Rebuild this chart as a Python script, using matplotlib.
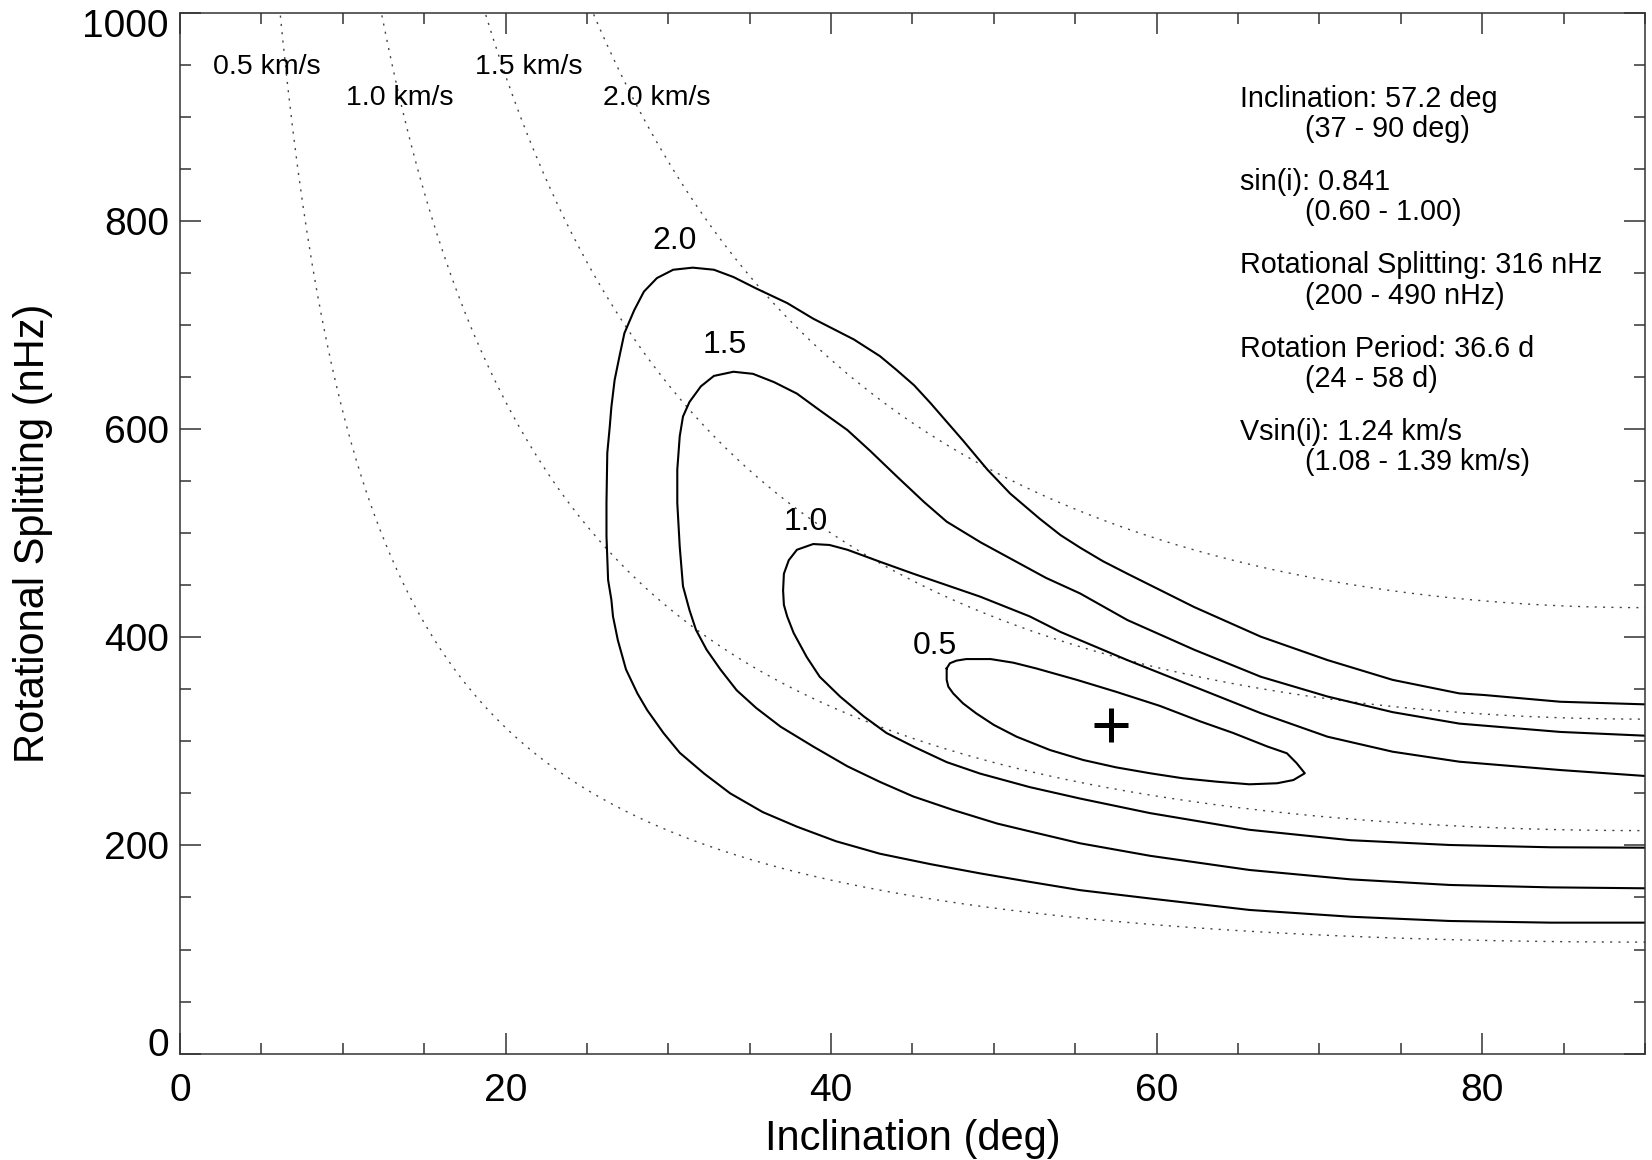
import matplotlib
matplotlib.use('Agg')
import matplotlib.pyplot as plt
import matplotlib.transforms as mtransforms
from matplotlib import font_manager
import numpy as np

# ====================================================================================
# DATOS
# Curvas de vsin(i) constante: velocidades (km/s) y desdoblamiento a i = 90 deg por km/s
vsini_levels = [0.5, 1.0, 1.5, 2.0]
split_per_kms = 214.2   # nHz

# Contornos de confianza (inclinacion en deg, desdoblamiento en nHz)
contour_levels = ['2.0', '1.5', '1.0', '0.5']

c20_inc = [90, 84.8, 80.1, 78.6, 74.5, 70.5, 66.4, 62.3, 58.2, 56.7, 55.3,
           54.1, 52.8, 51.0, 49.6, 48.1, 47.1, 46.1, 45.1, 44.0, 43.0,
           41.4, 38.9, 37.3, 35.4, 34.0, 32.8, 31.5, 30.3, 29.3, 28.5,
           27.9, 27.3, 27.0, 26.7, 26.5, 26.4, 26.25, 26.2, 26.2, 26.3,
           26.5, 26.6, 26.9, 27.4, 28.1, 28.7, 29.7, 30.7, 32.2, 33.8,
           35.8, 37.9, 40.3, 43.0, 46.1, 49.2, 52.2, 55.3, 59.6, 65.7,
           71.9, 78.0, 84.2, 90]
c20_split = [335.5, 338, 344.5, 346, 359, 378, 400.5, 429, 461, 473, 486,
             498, 514, 538, 561, 589, 607, 625, 642, 657, 670,
             686, 706, 721, 735, 746, 753, 755, 753, 745, 732,
             714, 692, 670, 647, 621, 602, 577, 529, 497, 455,
             436, 420, 397, 369, 346, 330, 308, 289, 269, 250,
             232, 218, 204, 192, 182, 173, 165, 157, 149, 138,
             131.5, 127.4, 125.8, 125.8]

c15_inc = [90, 84.8, 78.6, 74.5, 70.5, 66.4, 62.3, 58.2, 55.3, 53.2,
           51.2, 49.2, 47.1, 45.7, 44.0, 42.4, 41.0, 39.3, 37.9, 36.5,
           35.2, 34.0, 32.8, 32.0, 31.3, 30.9, 30.7, 30.55, 30.55, 30.7,
           30.9, 31.3, 31.7, 32.35, 33.2, 34.2, 35.4, 36.9, 38.9, 41.0,
           43.0, 45.05, 47.5, 50.2, 52.6, 55.3, 59.6, 65.7, 71.9, 78.0,
           84.2, 90]
c15_split = [305.4, 309, 317, 328, 343, 362, 388, 416.5, 442, 457,
             474, 491, 511, 530, 555, 579, 599, 618, 634, 645,
             653, 655, 651, 641, 626, 612, 593, 561, 529, 487,
             449, 426, 407, 388, 369, 349, 332, 314, 295, 276,
             261, 247, 234, 221, 212, 202, 190, 176.4, 167.4, 162,
             159.7, 158.8]

c10_inc = [90, 84.8, 78.6, 74.5, 70.5, 66.4, 62.3, 58.2, 54.1, 52.2,
           49.15, 47.1, 45.05, 43.0, 41.0, 39.9, 38.9, 37.9, 37.4, 37.1,
           37.05, 37.1, 37.3, 37.7, 38.5, 39.3, 40.55, 42.0, 43.4, 45.05,
           47.1, 49.15, 52.2, 55.3, 59.6, 65.7, 71.9, 78.0, 84.2, 90]
c10_split = [266.7, 272.4, 280.4, 290, 304.4, 327, 352.5, 378, 405, 420,
             439, 450, 461, 472.5, 484, 488.6, 489.5, 484, 474, 461,
             445, 431, 420, 404, 381, 362, 343, 324, 308, 295,
             280, 269, 256, 245, 231, 215, 205, 200.4, 198.2, 197.8]

c05_inc = [47.1, 47.3, 47.7, 48.3, 49.8, 51.2, 52.6, 55.1, 57.5, 60.2,
           62.7, 64.7, 66.8, 68.0, 68.6, 69.1, 68.4, 67.4, 65.7, 63.7,
           61.6, 59.6, 57.5, 55.5, 53.45, 51.4, 50.0, 48.9, 48.1, 47.5,
           47.2, 47.1, 47.1]
c05_split = [370, 375, 377.5, 379, 379, 375.5, 370, 359, 347.6, 334,
             319, 308, 295, 288.5, 279, 269.3, 262.8, 259.7, 258.7, 261.2,
             264.5, 269.3, 275, 282, 291.6, 304.4, 315.7, 327, 336.5, 346,
             352.5, 359, 370]

# Mejor ajuste
best_inc = 57.2
best_split = 316

# Resumen de parametros (valor, intervalo)
info_lines = [("Inclination: 57.2 deg", "(37 - 90 deg)"),
              ("sin(i): 0.841", "(0.60 - 1.00)"),
              ("Rotational Splitting: 316 nHz", "(200 - 490 nHz)"),
              ("Rotation Period: 36.6 d", "(24 - 58 d)"),
              ("Vsin(i): 1.24 km/s", "(1.08 - 1.39 km/s)")]

# ====================================================================================
# FUENTES
names = {f.name for f in font_manager.fontManager.ttflist}
if 'Liberation Sans Narrow' in names:
    tick_font, tick_size = 'Liberation Sans Narrow', 32
else:
    tick_font, tick_size = 'Liberation Sans', 28
plt.rcParams['font.family'] = ['Liberation Sans', 'DejaVu Sans']

# ====================================================================================
# FIGURA
fig = plt.figure(figsize=(16.52, 11.6), dpi=100)
ax = fig.add_axes([0.10896, 0.09172, 0.88680, 0.89741])
ax.set_xlim(0, 90)
ax.set_ylim(0, 1000)

# Curvas de vsin(i) constante
inc = np.linspace(0.5, 90, 600)
for v in vsini_levels:
    split = v * split_per_kms / np.sin(np.radians(inc))
    ax.plot(inc, split, color='#444444', lw=1.0, linestyle=(0, (1.5, 4.5)))

vel_label_pos = [(2.0, 948), (10.2, 918), (18.1, 948), (26.0, 918)]
for v, (x, y) in zip(vsini_levels, vel_label_pos):
    ax.text(x, y, '%.1f km/s' % v, fontsize=20.5, ha='left', va='center')

# Contornos
for xs, ys in [(c20_inc, c20_split), (c15_inc, c15_split),
               (c10_inc, c10_split), (c05_inc, c05_split)]:
    ax.plot(xs, ys, color='black', lw=1.5, solid_joinstyle='round')

label_pos = [(29.0, 781), (32.1, 681), (37.1, 511), (45.0, 392)]
for lab, (x, y) in zip(contour_levels, label_pos):
    ax.text(x, y, lab, fontsize=23, ha='left', va='center')

# Mejor ajuste
ax.plot(best_inc, best_split, marker='+', color='black', markersize=24, mew=3.6)

# Texto con los parametros
for k, (l1, l2) in enumerate(info_lines):
    base = 909.5 - 80 * k
    ax.text(65.1, base, l1, fontsize=20.7, ha='left', va='baseline')
    ax.text(69.1, base - 29, l2, fontsize=20.7, ha='left', va='baseline')

# ====================================================================================
# EJES
ax.set_xticks([0, 20, 40, 60, 80])
ax.set_xticks(np.arange(0, 91, 5), minor=True)
ax.set_yticks([0, 200, 400, 600, 800, 1000])
ax.set_yticks(np.arange(0, 1001, 50), minor=True)
ax.tick_params(which='both', direction='in', top=True, right=True, color='#333333')
ax.tick_params(which='major', length=15, width=1.1)
ax.tick_params(which='minor', length=8, width=1.1)
ax.tick_params(axis='x', which='major', pad=14)
ax.tick_params(axis='y', which='major', pad=8)
for lab in ax.get_xticklabels() + ax.get_yticklabels():
    lab.set_fontfamily(tick_font)
    lab.set_fontsize(tick_size)
for sp in ax.spines.values():
    sp.set_linewidth(1.1)
    sp.set_color('#333333')

# Etiquetas extremas del eje y desplazadas hacia dentro
ylabs = ax.get_yticklabels()
ylabs[0].set_transform(ylabs[0].get_transform() +
                       mtransforms.ScaledTranslation(0, 8.6 / 72, fig.dpi_scale_trans))
ylabs[-1].set_transform(ylabs[-1].get_transform() +
                        mtransforms.ScaledTranslation(0, -7.2 / 72, fig.dpi_scale_trans))

ax.set_xlabel('Inclination (deg)', fontsize=30, labelpad=7)
ax.set_ylabel('Rotational Splitting (nHz)', fontsize=30, labelpad=21)

fig.savefig('out.png', dpi=100)
